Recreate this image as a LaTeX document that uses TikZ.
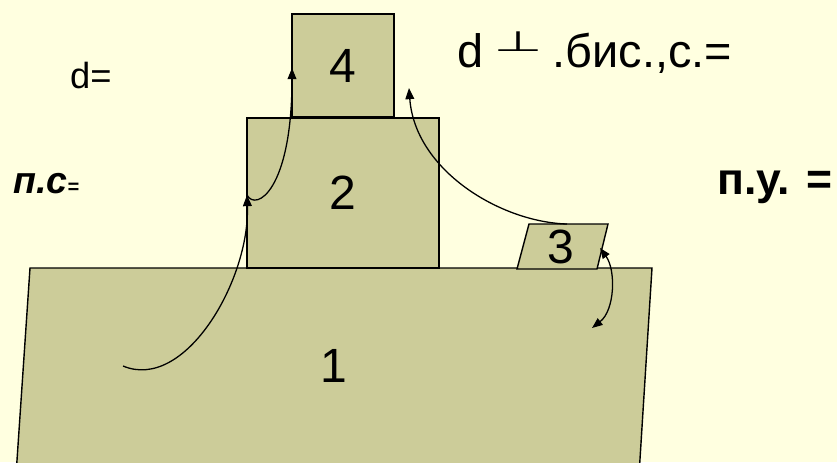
\documentclass[tikz,border=0pt]{standalone}
\usepackage{fontspec}
\setmainfont{Liberation Sans}
\newfontfamily\symfont{DejaVu Sans}
\usetikzlibrary{arrows.meta}
\definecolor{paper}{RGB}{255,255,224}
\definecolor{slab}{RGB}{204,204,153}

\tikzset{
  block/.style={draw=black,fill=slab,line width=1.6pt,inner sep=0pt},
  digit/.style={font=\fontsize{41}{41}\selectfont},
  lbl/.style={inner sep=0pt,anchor=base west},
  flow/.style={line width=1.1pt,-{Triangle[length=9.5pt,width=7.5pt]}},
  swing/.style={line width=1.1pt,{Triangle[length=9pt,width=7pt]}-{Triangle[length=9pt,width=7pt]}},
}

\begin{document}
\begin{tikzpicture}[x=0.03cm,y=-0.03cm]
  \fill[paper] (0,0) rectangle (837,462);
  \useasboundingbox (0,0) rectangle (837,462);
  % bodies 1..4
  \draw[block,line width=1.2pt] (30,268) -- (652,268) -- (639,475) -- (16,475) -- cycle;
  \node[block,minimum width=5.76cm,minimum height=4.5cm] (b2) at (343,193) {};
  \node[block,minimum width=3.06cm,minimum height=3.09cm] (b4) at (343,65.5) {};
  \draw[block,line width=1.2pt] (529,224) -- (608,224) -- (597,269) -- (517,269) -- cycle;
  \node[digit] (n1) at (334,366) {1};
  \node[digit] (n2) at (b2.center) {2};
  \node[digit] (n3) at (561,247) {3};
  \node[digit] (n4) at (b4.center) {4};
  % labels
  \node[lbl,font=\fontsize{31}{31}\selectfont] (dlen) at (70,88) {d=};
  \node[lbl,font=\fontsize{40}{40}\selectfont] (dbis) at (457,67)
    {d\hspace{0.22em}\raisebox{13pt}{\scalebox{1.2}[0.6]{\symfont ⊥}}\hspace{0.22em}.бис.,с.=};
  \node[lbl,font=\fontsize{32}{32}\selectfont\bfseries\itshape] (pc) at (13,193)
    {п.с{\fontsize{17}{17}\selectfont=}};
  \node[lbl,font=\fontsize{38}{38}\selectfont\bfseries] (py) at (717,194) {п.у. =};
  % arrows
  \coordinate (a0) at (123,366); \coordinate (a1) at (247,195);
  \coordinate (c0) at (567,224); \coordinate (c1) at (409,88);
  \coordinate (s0) at (600,248); \coordinate (s1) at (592,328);
  \coordinate (t1) at (292,68);
  \draw[flow] (a0) .. controls (185,392) and (250,280) .. (a1);
  \draw[flow] (a1) .. controls (256,212) and (292,190) .. (t1);
  \draw[flow] (c0) .. controls (500,222) and (415,170) .. (c1);
  \draw[swing] (s0) .. controls (616,270) and (615,310) .. (s1);
\end{tikzpicture}
\end{document}
